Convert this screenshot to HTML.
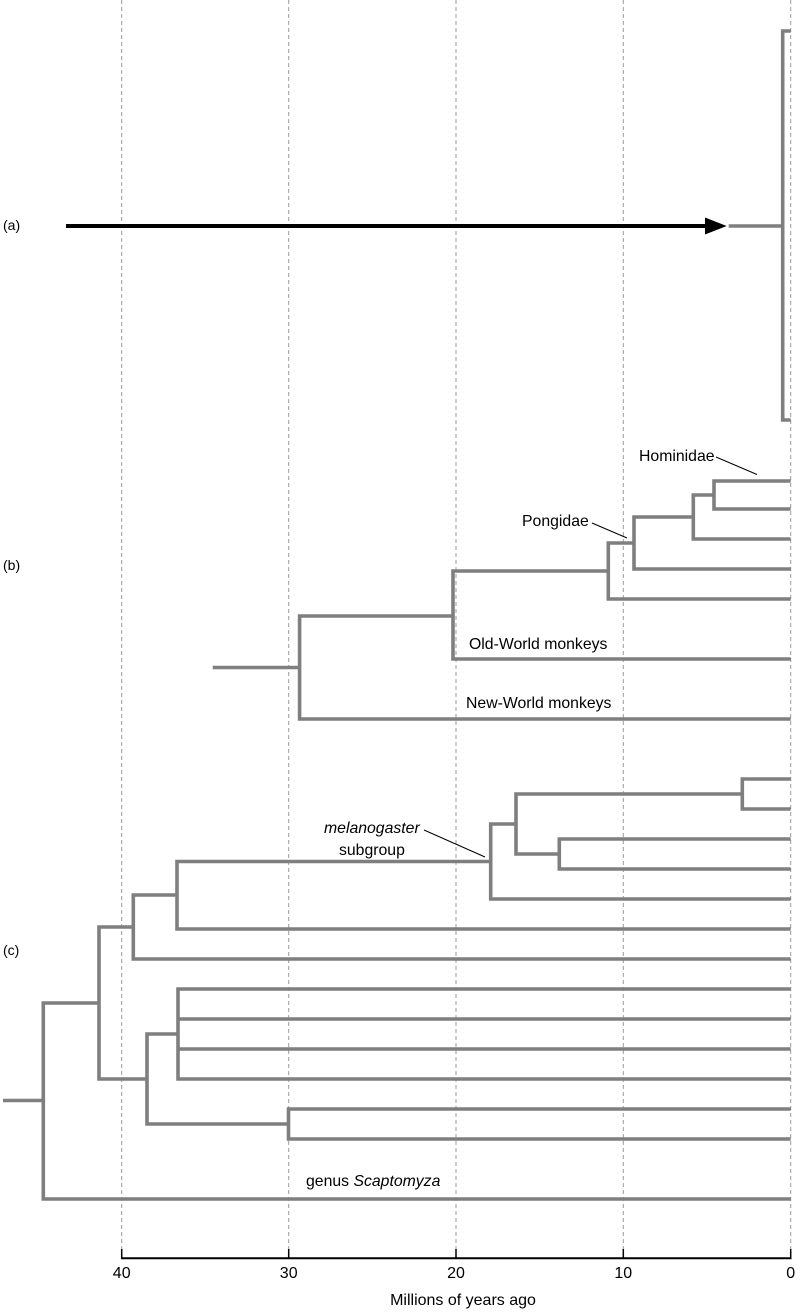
<!DOCTYPE html>
<html><head><meta charset="utf-8"><style>
html,body{margin:0;padding:0;background:#fff;}
svg{display:block;}
text{font-family:"Liberation Sans",sans-serif;fill:#000;}
</style></head><body>
<svg width="800" height="1312" viewBox="0 0 800 1312" xmlns="http://www.w3.org/2000/svg">
<g stroke="#9a9a9a" stroke-width="1" stroke-dasharray="4,3" fill="none">
<line x1="121.7" y1="0" x2="121.7" y2="1249"/>
<line x1="288.7" y1="0" x2="288.7" y2="1249"/>
<line x1="456" y1="0" x2="456" y2="1249"/>
<line x1="623.3" y1="0" x2="623.3" y2="1249"/>
<line x1="790.7" y1="0" x2="790.7" y2="1249"/>
</g>
<g stroke="#7f7f7f" stroke-width="3.6" fill="none" stroke-linejoin="miter" stroke-linecap="butt">
<!-- (a) -->
<path d="M790.7 31 H782.7 V420 H790.7"/>
<line x1="728.7" y1="226" x2="782.7" y2="226"/>
<!-- (b) -->
<path d="M790.7 481 H714 V509 H790.7"/>
<path d="M714 495 H693.3 V539 H790.7"/>
<path d="M693.3 517 H634 V569 H790.7"/>
<path d="M634 543 H608.3 V599 H790.7"/>
<path d="M608.3 571 H453 V659 H790.7"/>
<path d="M453 616 H299.6 V719 H790.7"/>
<line x1="212.7" y1="667.5" x2="299.6" y2="667.5"/>
<!-- (c) -->
<path d="M790.7 779 H742.3 V809 H790.7"/>
<path d="M790.7 839 H559.3 V869 H790.7"/>
<path d="M742.3 794 H516 V854 H559.3"/>
<path d="M516 824 H490.7 V899 H790.7"/>
<path d="M490.7 861.5 H177 V929 H790.7"/>
<path d="M177 895 H133.3 V959 H790.7"/>
<path d="M790.7 989 H178 V1079 H790.7"/>
<line x1="178" y1="1019" x2="790.7" y2="1019"/>
<line x1="178" y1="1049" x2="790.7" y2="1049"/>
<path d="M790.7 1109 H288.5 V1139 H790.7"/>
<path d="M178 1034 H147 V1124 H288.5"/>
<path d="M133.3 927 H99 V1079 H147"/>
<path d="M99 1003 H43.3 V1199 H790.7"/>
<line x1="3" y1="1100.5" x2="43.3" y2="1100.5"/>
</g>
<!-- arrow -->
<line x1="66" y1="226" x2="707" y2="226" stroke="#000" stroke-width="4"/>
<polygon points="705,217.5 726.7,226 705,234.5" fill="#000"/>
<!-- leader lines -->
<g stroke="#000" stroke-width="1">
<line x1="716" y1="457" x2="757" y2="474.5"/>
<line x1="592" y1="523" x2="627" y2="538"/>
<line x1="424" y1="830" x2="485" y2="857"/>
</g>
<!-- labels -->
<g font-size="14">
<text x="3" y="230">(a)</text>
<text x="3" y="570">(b)</text>
<text x="3" y="955">(c)</text>
</g>
<g font-size="15.8">
<text x="639" y="461">Hominidae</text>
<text x="522" y="526">Pongidae</text>
<text x="324" y="833" font-style="italic">melanogaster</text>
<text x="339" y="855">subgroup</text>
<text x="469" y="649">Old-World monkeys</text>
<text x="466" y="708">New-World monkeys</text>
<text x="306" y="1186">genus <tspan font-style="italic">Scaptomyza</tspan></text>
</g>
<!-- axis -->
<line x1="121" y1="1258.3" x2="791.5" y2="1258.3" stroke="#000" stroke-width="2"/>
<g stroke="#000" stroke-width="1.5">
<line x1="121.7" y1="1249" x2="121.7" y2="1258"/>
<line x1="288.7" y1="1249" x2="288.7" y2="1258"/>
<line x1="456" y1="1249" x2="456" y2="1258"/>
<line x1="623.3" y1="1249" x2="623.3" y2="1258"/>
<line x1="790.7" y1="1249" x2="790.7" y2="1258"/>
</g>
<g font-size="16" text-anchor="middle">
<text x="121.7" y="1278">40</text>
<text x="288.7" y="1278">30</text>
<text x="456" y="1278">20</text>
<text x="623.3" y="1278">10</text>
<text x="790.7" y="1278">0</text>
</g>
<text x="463" y="1305" font-size="16" text-anchor="middle">Millions of years ago</text>
</svg>
</body></html>
